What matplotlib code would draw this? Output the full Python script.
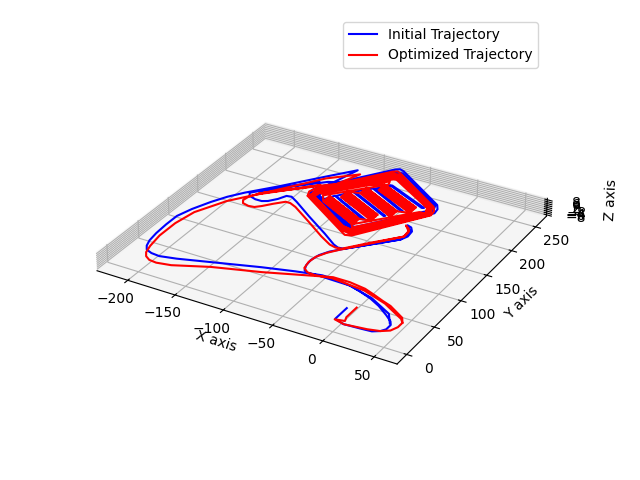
import matplotlib
matplotlib.use("Agg")
import matplotlib.pyplot as plt

# initial trajectory: start -> sweep out to the left -> into the survey block
init_x_in = [2,2,12,28,39,45,48,48,45,37,24,12,-2,-14,-30,-44,-68,-98,-142,-171,-187,-196,-203,-207,-210,-212,-213,-213,-208,-200,-192,-182,-161,-132,-112]
init_y_in = [27,7,3,4,5,9,14,22,27,34,44,51,57,61,64,64,58,49,34,24,20,21,24,30,39,53,71,89,107,127,143,158,184,223,249]
# laps around the block edge
init_x_laps = [-128,-130,-128,-82,-78,-73,-15,-11,-10,-55,-61,-67,-128,
               -126,-126,-80,-72,-16,-12,-56,-68,-126,
               -124,-124,-79,-72,-18,-14,-58,-69,-124,
               -122,-122,-78,-71,-19,-16,-60,-70,-122,
               -120,-119,-76,-70,-20,-18,-61,-71,-120,
               -115,-69,-68,-114]
init_y_laps = [186,194,202,268,271,269,227,220,212,143,141,145,186,
               187,201,264,265,225,212,145,147,187,
               188,200,261,261,224,212,148,150,188,
               188,199,257,257,222,212,150,152,188,
               189,198,253,254,221,212,153,155,189,
               178,154,155,179]
# passes along the gaps between the red strips
init_x_pass = [-106,-62,-60,-105,-95,-48,-47,-94,-82,-37,-36,-80,-70,-25,-23,-69]
init_y_pass = [195,169,170,195,210,184,185,211,225,199,200,226,238,215,216,239]
# way out of the block and back through the S-bend to the end
init_x_out = [-125,-172,-132,-174,-178,-175,-167,-160,-155,-149,-145,-140,-131,-107,-79,-62,-56,-50,-14,-11,-12,-16,-21,-13,-14,-50,-59,-64,-66,-65,-62,-57,-48,-14,13,38,46]
init_y_out = [215,168,211,165,160,155,152,152,155,163,172,173,167,149,129,116,113,114,154,162,172,178,180,171,154,114,103,93,82,72,64,61,62,61,52,37,24]

opt_x_in = [9,9,11,2,13,34,45,52,55,55,51,42,33,23,12,0,-17,-34,-56,-93,-137,-169,-183,-191,-197,-201,-204,-207,-207,-203,-188,-168,-130,-106]
opt_y_in = [32,14,8,6,3,6,9,14,22,30,37,43,49,53,58,63,66,66,57,42,27,12,9,10,14,20,31,51,77,103,136,164,220,243]
opt_x_laps = [-128,-131,-129,-82,-78,-74,-16,-12,-11,-56,-62,-68,-128,
              -126,-127,-81,-73,-17,-12,-57,-68,-126,
              -125,-125,-80,-72,-18,-14,-58,-69,-125,
              -123,-123,-79,-71,-19,-15,-60,-70,-123,
              -122,-121,-78,-71,-20,-17,-61,-71,-122]
opt_y_laps = [182,190,197,263,266,264,222,215,207,138,136,140,182,
              182,196,260,261,221,207,140,142,182,
              183,196,257,258,220,207,143,144,183,
              183,195,254,254,218,207,145,146,183,
              184,194,251,251,217,207,147,149,184]
# inner strokes on the lower and upper block edges only
opt_x_edges = [-71,-61,-62,-18,-20,-63,-66,-23,-17,-20,-70,-76,-120,-119,-75,-73,-116]
opt_y_edges = [149,147,149,207,207,151,156,207,207,217,254,248,193,192,245,239,190]
# four strips across the block, run back and forth
opt_x_strips = [-110,-65,-110,-65,-65,-110,-110,-65,-65,-110,-110,-65,-65,-110,-65,
                -54,-100,-54,-100,-100,-54,-54,-100,-100,-54,-54,-100,-100,-54,-100,
                -88,-42,-88,-42,-42,-88,-88,-42,-42,-88,-88,-42,-42,-88,-42,
                -30,-76,-30,-76,-76,-30,-30,-76,-76,-30,-30,-76,-76,-30,-76]
opt_y_strips = [180,156,182,158,160,184,186,162,164,188,190,166,168,192,168,
                171,196,173,198,200,175,177,202,204,179,181,206,208,183,208,
                211,186,213,188,190,215,217,192,194,219,221,196,198,223,198,
                201,225,203,227,229,205,207,231,233,209,211,235,237,213,237]
opt_x_out = [-120,-170,-128,-171,-175,-176,-173,-166,-160,-155,-148,-140,-135,-127,-102,-79,-65,-58,-52,-35,-14,-14,-17,-22,-15,-14,-53,-60,-65,-66,-64,-58,-50,-34,1,27,51,55]
opt_y_out = [212,163,206,160,152,145,140,138,139,144,153,162,162,158,140,123,114,112,113,135,160,169,175,179,171,160,110,100,89,78,67,62,61,64,60,50,35,30]

# the values above were read with the axes a little off, this puts them back
X_FIX = -3
Y_FIX = -1

init_x = [v + X_FIX for v in init_x_in + init_x_laps + init_x_pass + init_x_out]
init_y = [v + Y_FIX for v in init_y_in + init_y_laps + init_y_pass + init_y_out]
opt_x = [v + X_FIX for v in opt_x_in + opt_x_laps + opt_x_edges + opt_x_strips + opt_x_out]
opt_y = [v + Y_FIX for v in opt_y_in + opt_y_laps + opt_y_edges + opt_y_strips + opt_y_out]

fig = plt.figure(figsize=(6.4, 4.8), dpi=100)
ax = fig.add_subplot(111, projection="3d")
ax.plot(init_x, init_y, [0] * len(init_x), color="blue", label="Initial Trajectory")
ax.plot(opt_x, opt_y, [0] * len(opt_x), color="red", label="Optimized Trajectory")
ax.set_xlim(-233, 72)
ax.set_ylim(-17, 273)
ax.set_zlim(-9.5, 9.5)
ax.set_zticks(range(-8, 10, 2))
ax.set_aspect("equal")
ax.set_xlabel("X axis")
ax.set_ylabel("Y axis")
ax.set_zlabel("Z axis")
ax.legend()
fig.tight_layout()
fig.savefig("out.png", dpi=100)
